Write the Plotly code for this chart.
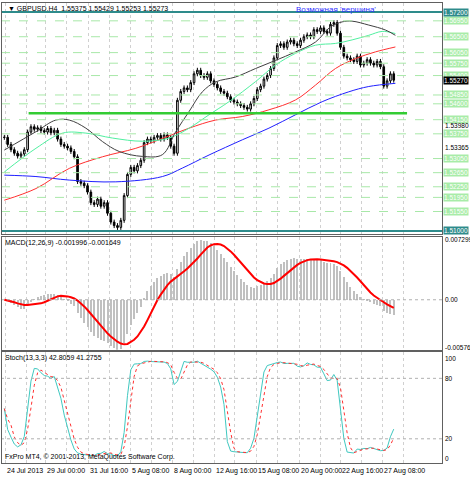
import plotly.graph_objects as go
import pandas as pd

closes = [1.5365,1.5345,1.5330,1.5320,1.5312,1.5318,1.5330,1.5380,1.5395,1.5388,1.5392,1.5384,1.5380,1.5390,1.5378,1.5385,1.5360,1.5345,1.5340,1.5335,1.5325,1.5310,1.5240,1.5235,1.5228,1.5210,1.5180,1.5175,1.5190,1.5170,1.5180,1.5150,1.5125,1.5115,1.5110,1.5130,1.5200,1.5260,1.5280,1.5270,1.5285,1.5300,1.5350,1.5360,1.5355,1.5365,1.5370,1.5360,1.5372,1.5365,1.5340,1.5320,1.5470,1.5495,1.5505,1.5500,1.5520,1.5545,1.5555,1.5540,1.5535,1.5545,1.5525,1.5515,1.5505,1.5495,1.5490,1.5480,1.5470,1.5465,1.5460,1.5455,1.5450,1.5445,1.5460,1.5475,1.5500,1.5510,1.5530,1.5540,1.5560,1.5590,1.5625,1.5630,1.5620,1.5635,1.5640,1.5630,1.5625,1.5640,1.5650,1.5655,1.5650,1.5670,1.5665,1.5675,1.5665,1.5660,1.5685,1.5690,1.5660,1.5620,1.5595,1.5590,1.5585,1.5580,1.5595,1.5570,1.5575,1.5585,1.5575,1.5570,1.5580,1.5565,1.5510,1.5525,1.5545,1.5527]
wick = 0.0007

ma_black_x = [0,9.5,15.5,19.5,24.5,29.5,34.5,41.5,47.5,51.5,55.5,59.5,63.5,69.5,75.5,81.5,87.5,93.5,98,101.5,104.5,109.5,114.5,117.5]
ma_black = [1.5329,1.5381,1.5414,1.5414,1.5391,1.5353,1.5325,1.5311,1.5316,1.5381,1.5438,1.5494,1.5522,1.5536,1.5560,1.5583,1.5607,1.5635,1.5678,1.5692,1.5694,1.5683,1.5669,1.5654]
ma_green_x = [0,9.5,17.5,24.5,32.5,41.5,49.5,55.5,61.5,67.5,75.5,81.5,87.5,93.5,99.5,104.5,109.5,113.5,117.5]
ma_green = [1.5267,1.5334,1.5377,1.5377,1.5363,1.5354,1.5363,1.5391,1.5429,1.5466,1.5523,1.5570,1.5603,1.5626,1.5631,1.5641,1.5654,1.5665,1.5659]
ma_red_x = [0,9.5,19.5,29.5,39.5,47.5,55.5,63.5,71.5,79.5,87.5,93.5,99.5,105.5,111.5,117.5]
ma_red = [1.5187,1.5220,1.5277,1.5310,1.5334,1.5362,1.5391,1.5414,1.5424,1.5443,1.5471,1.5513,1.5560,1.5588,1.5607,1.5621]
ma_blue_x = [0,9.5,19.5,33.5,47.5,53.5,61.5,71.5,79.5,87.5,95.5,103.5,109.5,117.5]
ma_blue = [1.5258,1.5254,1.5244,1.5239,1.5254,1.5278,1.5315,1.5358,1.5391,1.5429,1.5466,1.5494,1.5509,1.5518]

support_level = 1.5433
levels = [1.5695,1.5650,1.5605,1.5575,1.5540,1.5485,1.5460,1.5415,1.5375,1.5305,1.5265,1.5225,1.5195,1.5155]
bound_levels = [1.5720,1.5100]
plain_labels = [1.5398,1.53365]
date_labels = ["24 Jul 2013","29 Jul 00:00","31 Jul 16:00","5 Aug 08:00","8 Aug 00:00","12 Aug 16:00","15 Aug 08:00","20 Aug 00:00","22 Aug 16:00","27 Aug 08:00"]
date_pos = [0.3,12.3,25.2,37.8,50.5,63,75.7,88.6,101,113.5]

n = len(closes)
idx = list(range(n))
opens = [closes[0]] + closes[:-1]
highs = [max(o, c) + wick for o, c in zip(opens, closes)]
lows = [min(o, c) - wick for o, c in zip(opens, closes)]

s = pd.Series(closes)
macd = s.ewm(span=12, adjust=False).mean() - s.ewm(span=26, adjust=False).mean()
sig = macd.rolling(9, min_periods=1).mean()
hh = pd.Series(highs).rolling(13, min_periods=1).max()
ll = pd.Series(lows).rolling(13, min_periods=1).min()
num = (s - ll).rolling(3, min_periods=1).sum()
den = (hh - ll).rolling(3, min_periods=1).sum()
k = 100 * num / den
d = k.rolling(3, min_periods=1).mean()

fig = go.Figure()
for lv in levels:
    fig.add_shape(type="line", xref="x", yref="y", x0=-1, x1=132, y0=lv, y1=lv,
                  line=dict(color="#a8e8a8", width=1, dash="dash"))
for lv in bound_levels:
    fig.add_shape(type="line", xref="paper", yref="y", x0=0, x1=1, y0=lv, y1=lv,
                  line=dict(color="#2e8b8b", width=2))
fig.add_shape(type="line", xref="x", yref="y", x0=7.3, x1=121, y0=support_level, y1=support_level,
              line=dict(color="#33cc33", width=2.5))

fig.add_trace(go.Candlestick(x=idx, open=opens, high=highs, low=lows, close=closes,
    increasing=dict(line=dict(color="black", width=1), fillcolor="white"),
    decreasing=dict(line=dict(color="black", width=1), fillcolor="black"),
    whiskerwidth=0, showlegend=False, xaxis="x", yaxis="y"))
for xs, ys, col in [(ma_blue_x, ma_blue, "#2020ff"), (ma_red_x, ma_red, "#ff3030"),
                    (ma_green_x, ma_green, "#50f0a0"), (ma_black_x, ma_black, "#404040")]:
    fig.add_trace(go.Scatter(x=xs, y=ys, mode="lines", line=dict(color=col, width=1, shape="spline"),
                             showlegend=False, xaxis="x", yaxis="y"))

fig.add_trace(go.Bar(x=idx, y=macd, marker=dict(color="#c0c0c0", line_width=0), width=0.3,
                     showlegend=False, xaxis="x2", yaxis="y2"))
fig.add_trace(go.Scatter(x=idx, y=sig, mode="lines", line=dict(color="red", width=2),
                         showlegend=False, xaxis="x2", yaxis="y2"))
fig.add_trace(go.Scatter(x=idx, y=k, mode="lines", line=dict(color="#40c8c0", width=1),
                         showlegend=False, xaxis="x3", yaxis="y3"))
fig.add_trace(go.Scatter(x=idx, y=d, mode="lines", line=dict(color="#ff3030", width=1, dash="dot"),
                         showlegend=False, xaxis="x3", yaxis="y3"))

for yv in [80, 20]:
    fig.add_shape(type="line", xref="x3", yref="y3", x0=-1, x1=132, y0=yv, y1=yv,
                  line=dict(color="#b0b0b0", width=1, dash="dot"))
fig.add_shape(type="line", xref="x2", yref="y2", x0=-1, x1=132, y0=0, y1=0,
              line=dict(color="#b0b0b0", width=1, dash="dot"))

gridvals = []
for p in date_pos:
    gridvals += [p, p + 6.3]
xr = [-0.7, 131.5]
grid = dict(showgrid=True, gridcolor="#d0d0d0", griddash="dot", gridwidth=1)
box = dict(showline=True, linecolor="#606060", mirror=True, linewidth=1, zeroline=False)
ax_common = dict(range=xr, tickvals=gridvals, showticklabels=False, **grid, **box)
fig.update_layout(
    width=470, height=480, paper_bgcolor="white", plot_bgcolor="white",
    margin=dict(l=2, r=28, t=3, b=17),
    font=dict(family="Liberation Sans", size=7, color="black"),
    xaxis=dict(domain=[0, 1], anchor="y", **ax_common),
    xaxis2=dict(domain=[0, 1], anchor="y2", matches="x", **ax_common),
    xaxis3=dict(domain=[0, 1], anchor="y3", matches="x", **ax_common),
    yaxis=dict(domain=[0.498, 1], range=[1.50915, 1.57455], showticklabels=False, showgrid=False, **box),
    yaxis2=dict(domain=[0.246, 0.491], range=[-0.0060, 0.0075], showticklabels=False, showgrid=False, **box),
    yaxis3=dict(domain=[0, 0.241], range=[-4, 106], showticklabels=False, showgrid=False, **box),
    bargap=0,
)
fig.update_xaxes(rangeslider_visible=False)

lab = dict(size=6.5)
ann = []
for lv in levels + bound_levels:
    bg = "#2e8b8b" if lv in bound_levels else "#a8eca8"
    ann.append(dict(xref="paper", yref="y", x=1.003, y=lv, text=f"{lv:.5f}", showarrow=False,
                    xanchor="left", font=dict(size=6.5, color="white"), bgcolor=bg, borderpad=0))
for lv in plain_labels:
    ann.append(dict(xref="paper", yref="y", x=1.003, y=lv, text=f"{lv:.5f}", showarrow=False,
                    xanchor="left", font=dict(size=6.5, color="black")))
ann.append(dict(xref="paper", yref="y", x=1.003, y=closes[-1], text=f"{closes[-1]:.5f}", showarrow=False,
                xanchor="left", font=dict(size=6.5, color="white"), bgcolor="black", borderpad=0))
for v, t in [(0.0072, "0.007299"), (0, "0.00"), (-0.0057, "-0.005769")]:
    ann.append(dict(xref="paper", yref="y2", x=1.003, y=v, text=t, showarrow=False, xanchor="left",
                    font=lab))
for v in [100, 80, 20, 0]:
    ann.append(dict(xref="paper", yref="y3", x=1.003, y=v, text=str(v), showarrow=False, xanchor="left",
                    font=lab))
for p, t in zip(date_pos, date_labels):
    ann.append(dict(xref="x", yref="paper", x=p, y=0, yshift=-2, text=t, showarrow=False,
                    xanchor="left", yanchor="top", font=dict(size=7)))
ann.append(dict(xref="paper", yref="paper", x=0.01, y=1, text="▼ GBPUSD.H4  1.55375 1.55429 1.55253 1.55273",
                showarrow=False, xanchor="left", yanchor="top", font=dict(size=7)))
ann.append(dict(xref="x", yref="paper", x=87, y=1, text="Возможная 'вершина'", showarrow=False,
                xanchor="left", yanchor="top", font=dict(size=8, color="#3030ff")))
ann.append(dict(xref="paper", yref="paper", x=0.003, y=0.491, text="MACD(12,26,9) -0.001996 -0.001649",
                showarrow=False, xanchor="left", yanchor="top", font=dict(size=7)))
ann.append(dict(xref="paper", yref="paper", x=0.003, y=0.241, text="Stoch(13,3,3) 42.8059 41.2755",
                showarrow=False, xanchor="left", yanchor="top", font=dict(size=7)))
ann.append(dict(xref="paper", yref="paper", x=0.003, y=0.0, text="FxPro MT4, © 2001-2013, MetaQuotes Software Corp.",
                showarrow=False, xanchor="left", yanchor="bottom", font=dict(size=7)))
fig.update_layout(annotations=ann)
fig.write_html("out.html", config={"displayModeBar": False})

with open("out.html", encoding="utf-8") as f:
    html = f.read()
html = html.replace("<body>", '<body style="margin:0;overflow:hidden">', 1)
with open("out.html", "w", encoding="utf-8") as f:
    f.write(html)
